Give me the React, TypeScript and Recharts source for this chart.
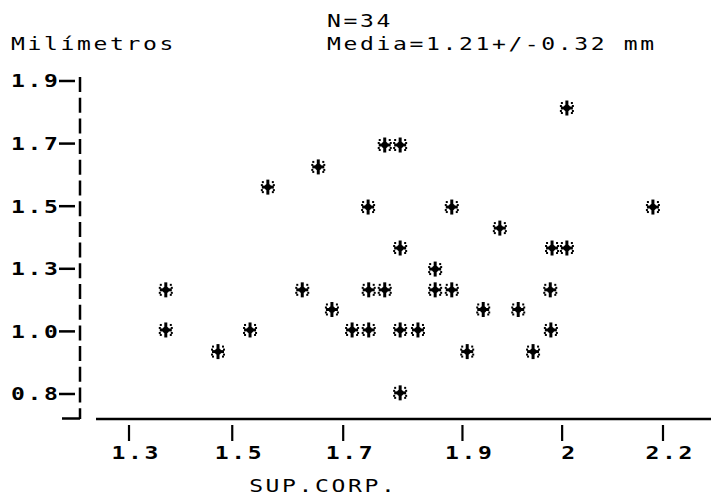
import React from 'react';
import { ScatterChart, Scatter, XAxis, YAxis, ReferenceLine } from 'recharts';

// SUP.CORP. (x) values of the 34 points
const supCorp = [
  2.038, 1.619, 1.534, 1.731, 1.757, 1.703, 1.844, 2.183, 1.925, 1.757,
  2.013, 2.038, 1.816, 1.362, 1.592, 1.704, 1.731, 1.816, 1.844, 2.010,
  1.642, 1.897, 1.956, 1.362, 1.504, 1.676, 1.704, 1.757, 1.787, 2.011,
  1.450, 1.870, 1.981, 1.757,
];
// Milímetros (y) values of the 34 points
const milimetros = [
  1.805, 1.598, 1.527, 1.675, 1.675, 1.457, 1.457, 1.457, 1.383, 1.313,
  1.313, 1.313, 1.239, 1.166, 1.166, 1.166, 1.166, 1.166, 1.166, 1.166,
  1.097, 1.097, 1.097, 1.025, 1.025, 1.025, 1.025, 1.025, 1.025, 1.025,
  0.949, 0.949, 0.949, 0.804,
];

const xTickValues = [1.3, 1.474, 1.661, 1.862, 2.03, 2.2];
const xTickLabels = ['1.3', '1.5', '1.7', '1.9', '2', '2.2'];
const yTickValues = [0.8, 1.02, 1.24, 1.46, 1.68, 1.9];
const yTickLabels = ['0.8', '1.0', '1.3', '1.5', '1.7', '1.9'];
const xDomain: [number, number] = [1.2174, 2.2809];
const yDomain: [number, number] = [0.7121, 1.914];
const titleLines = ['N=34', 'Media=1.21+/-0.32 mm'];
const yAxisTitle = 'Milímetros';
const xAxisTitle = 'SUP.CORP.';

const data = supCorp.map((x, i) => ({ x, y: milimetros[i] }));

const FONT = "'DejaVu Sans Mono', 'Liberation Mono', monospace";
const FS = 18;
const SX = 1.28; // horizontal stretch of the plotter glyphs
const ADV = 16.5; // character pitch in pixels
const LS = ADV / SX - FS * 0.602; // letter spacing in local units

const PText = ({ x, y, anchor = 'start', bold = false, children }: any) => {
  const shift = anchor === 'middle' ? LS / 2 : 0;
  return (
    <text
      transform={`translate(${x},${y}) scale(${SX},1)`}
      x={shift}
      y={0}
      textAnchor={anchor}
      fontFamily={FONT}
      fontSize={FS}
      fontWeight={bold ? 'bold' : 'normal'}
      letterSpacing={LS}
      fill="#000"
    >
      {children}
    </text>
  );
};

const findIdx = (arr: number[], v: number) => arr.findIndex((a) => Math.abs(a - v) < 1e-6);

const YTick = (props: any) => {
  const { y, payload } = props;
  const i = findIdx(yTickValues, payload.value);
  return (
    <g>
      <PText x={11} y={y + 6.5} bold>{yTickLabels[i]}</PText>
      <line x1={59} x2={75} y1={y} y2={y} stroke="#000" strokeWidth={2.5} />
    </g>
  );
};

const XTick = (props: any) => {
  const { x, payload } = props;
  const i = findIdx(xTickValues, payload.value);
  return (
    <g>
      <line x1={x} x2={x} y1={425} y2={441} stroke="#000" strokeWidth={2.2} />
      <PText x={x + 6} y={459} anchor="middle" bold>{xTickLabels[i]}</PText>
    </g>
  );
};

const Asterisk = (props: any) => {
  const { cx, cy } = props;
  if (cx == null || cy == null) return <g />;
  const d = [
    [-5, -5], [5, -5], [-5, 5], [5, 5], [-6, -2], [6, -2], [-6, 3], [6, 3],
  ];
  return (
    <g>
      <line x1={cx} x2={cx} y1={cy - 7.5} y2={cy + 7.5} stroke="#000" strokeWidth={3} />
      <line x1={cx - 6} x2={cx + 6} y1={cy} y2={cy} stroke="#000" strokeWidth={3} />
      <circle cx={cx} cy={cy} r={3.2} fill="#000" />
      {d.map(([dx, dy], k) => (
        <rect key={k} x={cx + dx - 1} y={cy + dy - 1} width={2} height={2} fill="#000" />
      ))}
    </g>
  );
};

export default function App() {
  return (
    <div style={{ position: 'absolute', left: 0, top: 0, width: 711, height: 504, background: '#fff' }}>
      <ScatterChart width={711} height={504} margin={{ top: 77, right: 0, bottom: 0, left: 0 }}>
        <XAxis
          type="number"
          dataKey="x"
          domain={xDomain}
          ticks={xTickValues}
          tick={<XTick />}
          tickLine={false}
          axisLine={false}
          height={85}
          interval={0}
          allowDataOverflow
        />
        <YAxis
          type="number"
          dataKey="y"
          domain={yDomain}
          ticks={yTickValues}
          tick={<YTick />}
          tickLine={false}
          axisLine={{ stroke: '#000', strokeWidth: 2.5, strokeDasharray: '15 5.7' }}
          width={80}
          interval={0}
          allowDataOverflow
        />
        <ReferenceLine
          segment={[{ x: 1.2444, y: yDomain[0] }, { x: xDomain[1], y: yDomain[0] }]}
          stroke="#000"
          strokeWidth={2.5}
          ifOverflow="visible"
        />
        <Scatter data={data} shape={<Asterisk />} isAnimationActive={false} fill="#000" />
      </ScatterChart>
      <svg width={711} height={504} style={{ position: 'absolute', left: 0, top: 0, pointerEvents: 'none' }}>
        <PText x={327} y={27}>{titleLines[0]}</PText>
        <PText x={327} y={50}>{titleLines[1]}</PText>
        <PText x={11} y={50}>{yAxisTitle}</PText>
        <PText x={322} y={492} anchor="middle">{xAxisTitle}</PText>
        <line x1={62} x2={80} y1={418.5} y2={418.5} stroke="#000" strokeWidth={2.5} />
      </svg>
    </div>
  );
}
